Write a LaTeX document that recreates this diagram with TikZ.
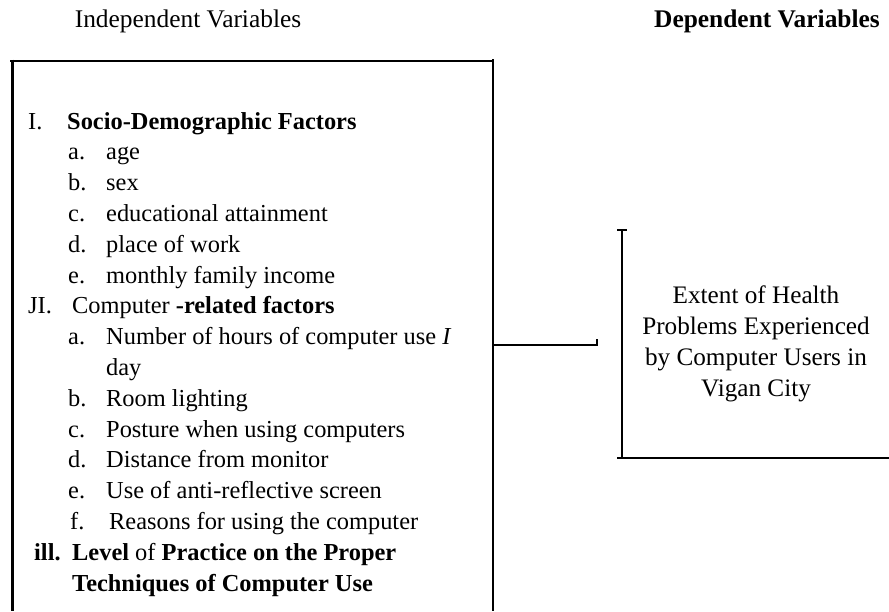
\documentclass[tikz,border=0pt]{standalone}
\usepackage{fontspec}
\setmainfont{Liberation Serif}
\begin{document}
\begin{tikzpicture}[x=1pt,y=-1pt,
  txt/.style={anchor=base west,inner sep=0pt,font=\fontsize{24.4}{30}\selectfont},
  ctr/.style={anchor=base,inner sep=0pt,font=\fontsize{25.2}{30}\selectfont},
  head/.style={anchor=base,inner sep=0pt,font=\fontsize{25.4}{30}\selectfont},
  frame/.style={line width=2.6pt,black}]
\useasboundingbox (0,0) rectangle (889,611);
% headers
\node[head] (hind) at (188,27) {Independent Variables};
\node[head,font=\fontsize{25.4}{30}\selectfont\bfseries] (hdep) at (767,27) {Dependent Variables};
% left box
\coordinate (ltl) at (10,61);
\coordinate (ltr) at (493,61);
\draw[frame] (ltl) -- (ltr);
\draw[frame,line width=3pt] (12,59.7) -- (12,611);
\draw[frame] (493,59) -- (493,611);
% list
\node[txt] (n1) at (28,129) {I.};
\node[txt] (n1t) at (67,129) {\textbf{Socio-Demographic Factors}};
\node[txt] (n1a) at (68,159.8) {a.};
\node[txt] (n1at) at (106,159.8) {age};
\node[txt] (n1b) at (68,190.6) {b.};
\node[txt] (n1bt) at (106,190.6) {sex};
\node[txt] (n1c) at (68,221.4) {c.};
\node[txt] (n1ct) at (106,221.4) {educational attainment};
\node[txt] (n1d) at (68,252.2) {d.};
\node[txt] (n1dt) at (106,252.2) {place of work};
\node[txt] (n1e) at (68,283) {e.};
\node[txt] (n1et) at (106,283) {monthly family income};
\node[txt] (n2) at (28,313.8) {JI.};
\node[txt] (n2t) at (72,313.8) {Computer \textbf{-related factors}};
\node[txt] (n2a) at (68,344.6) {a.};
\node[txt] (n2at) at (106,344.6) {Number of hours of computer use \textit{I}};
\node[txt] (n2at2) at (106,375.4) {day};
\node[txt] (n2b) at (68,406.2) {b.};
\node[txt] (n2bt) at (106,406.2) {Room lighting};
\node[txt] (n2c) at (68,437) {c.};
\node[txt] (n2ct) at (106,437) {Posture when using computers};
\node[txt] (n2d) at (68,467.8) {d.};
\node[txt] (n2dt) at (106,467.8) {Distance from monitor};
\node[txt] (n2e) at (68,498.6) {e.};
\node[txt] (n2et) at (106,498.6) {Use of anti-reflective screen};
\node[txt] (n2f) at (70,529.4) {f.};
\node[txt] (n2ft) at (109,529.4) {Reasons for using the computer};
\node[txt] (n3) at (34,560.2) {\textbf{ill.}};
\node[txt] (n3t) at (72,560.2) {\textbf{Level} of \textbf{Practice on the Proper}};
\node[txt] (n3t2) at (72,591) {\textbf{Techniques of Computer Use}};
% right box
\coordinate (rtop) at (622,230);
\coordinate (rbot) at (622,458);
\draw[frame] (617,230) -- (627,230);
\draw[frame] (rtop) -- (rbot);
\draw[frame] (617,458) -- (889,458);
\node[ctr] (r1) at (756,303) {Extent of Health};
\node[ctr] (r2) at (756,334) {Problems Experienced};
\node[ctr] (r3) at (756,365) {by Computer Users in};
\node[ctr] (r4) at (756,396) {Vigan City};
% connector
\coordinate (cs) at (493,345);
\coordinate (ce) at (597,345);
\draw[line width=2pt] (cs) -- (ce) -- ++(0,-6);
\end{tikzpicture}
\end{document}
